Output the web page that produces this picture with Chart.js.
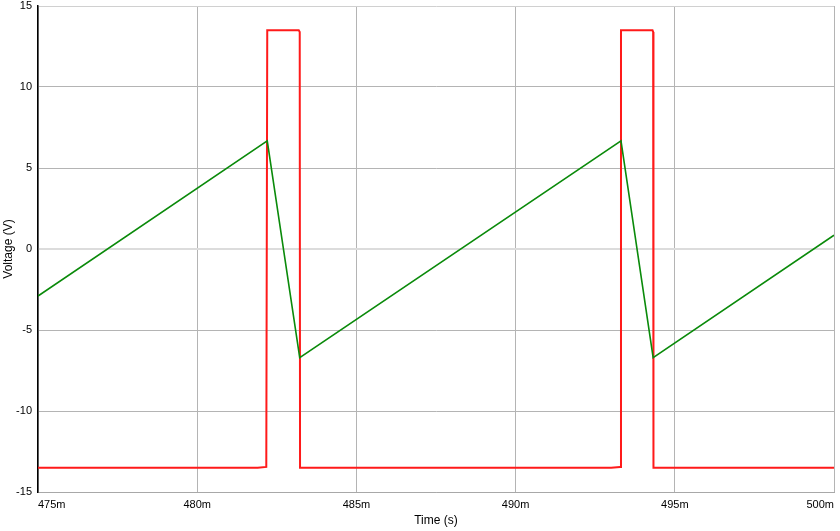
<!DOCTYPE html>
<html>
<head>
<meta charset="utf-8">
<script src="https://cdn.jsdelivr.net/npm/chart.js@4"></script>
<style>
  html, body { margin: 0; padding: 0; background: #ffffff; }
  #wrap { width: 840px; height: 531px; }
</style>
</head>
<body>
<div id="wrap"><canvas id="c" width="840" height="531"></canvas></div>
<script>
// Time in milliseconds (labels shown as "…m" = ms)
const xTicks = [475, 480, 485, 490, 495, 500];
const yTicks = [-15, -10, -5, 0, 5, 10, 15];

// Red trace: comparator / square-wave output
const redTime = [475, 481.9, 482.17, 482.2, 483.19, 483.22, 483.23, 493.0, 493.28, 493.31, 494.3, 494.32, 494.33, 500];
const redVolt = [-13.5, -13.5, -13.45, 13.5, 13.5, 13.4, -13.5, -13.5, -13.45, 13.5, 13.5, 13.4, -13.5, -13.5];

// Green trace: triangle / integrator output
const greenTime = [475, 482.2, 483.22, 493.31, 494.32, 500];
const greenVolt = [-2.9, 6.68, -6.7, 6.68, -6.7, 0.85];

const toPoints = (xs, ys) => xs.map((x, i) => ({ x: x, y: ys[i] }));

const FONT = "'Liberation Sans', Arial, sans-serif";

new Chart(document.getElementById('c'), {
  type: 'line',
  data: {
    datasets: [
      {
        label: 'Triangle',
        data: toPoints(greenTime, greenVolt),
        borderColor: '#0a8a0a',
        borderWidth: 1.6,
        pointRadius: 0,
        tension: 0,
        order: 0
      },
      {
        label: 'Square',
        data: toPoints(redTime, redVolt),
        borderColor: '#ff1a1a',
        borderWidth: 2,
        pointRadius: 0,
        tension: 0,
        order: 1
      }
    ]
  },
  options: {
    responsive: false,
    animation: false,
    layout: { padding: { top: 6, right: 6, left: 0, bottom: 0 } },
    plugins: {
      legend: { display: false },
      title: { display: false },
      tooltip: { enabled: false }
    },
    scales: {
      x: {
        type: 'linear',
        min: xTicks[0],
        max: xTicks[xTicks.length - 1],
        afterBuildTicks: (axis) => { axis.ticks = xTicks.map(v => ({ value: v })); },
        afterFit: (axis) => { axis.height = 39; axis.paddingLeft = 0; axis.paddingRight = 0; },
        ticks: {
          callback: (v) => v + 'm',
          color: '#000',
          font: { family: FONT, size: 11 },
          padding: 6,
          maxRotation: 0,
          align: 'inner'
        },
        grid: { color: '#b4b4b4', lineWidth: 1, drawTicks: false },
        border: { color: '#a8a8a8', width: 1 },
        title: {
          display: true,
          text: 'Time (s)',
          color: '#000',
          font: { family: FONT, size: 12 },
          padding: { top: 0, bottom: 3 }
        }
      },
      y: {
        type: 'linear',
        min: yTicks[0],
        max: yTicks[yTicks.length - 1],
        afterBuildTicks: (axis) => { axis.ticks = yTicks.map(v => ({ value: v })); },
        afterFit: (axis) => { axis.width = 38; axis.paddingTop = 0; axis.paddingBottom = 0; },
        ticks: {
          color: '#000',
          font: { family: FONT, size: 11 },
          padding: 6
        },
        grid: {
          drawTicks: false,
          color: (ctx) => {
            const v = ctx.tick ? ctx.tick.value : null;
            if (v === 0) return '#dcdcdc';
            if (v === 15) return '#d0d0d0';
            return '#b4b4b4';
          },
          lineWidth: (ctx) => (ctx.tick && ctx.tick.value === 0) ? 2 : 1
        },
        border: { color: '#000', width: 1.5 },
        title: {
          display: true,
          text: 'Voltage (V)',
          color: '#000',
          font: { family: FONT, size: 12 },
          padding: { top: 1, bottom: 0 }
        }
      }
    }
  }
});
</script>
</body>
</html>
